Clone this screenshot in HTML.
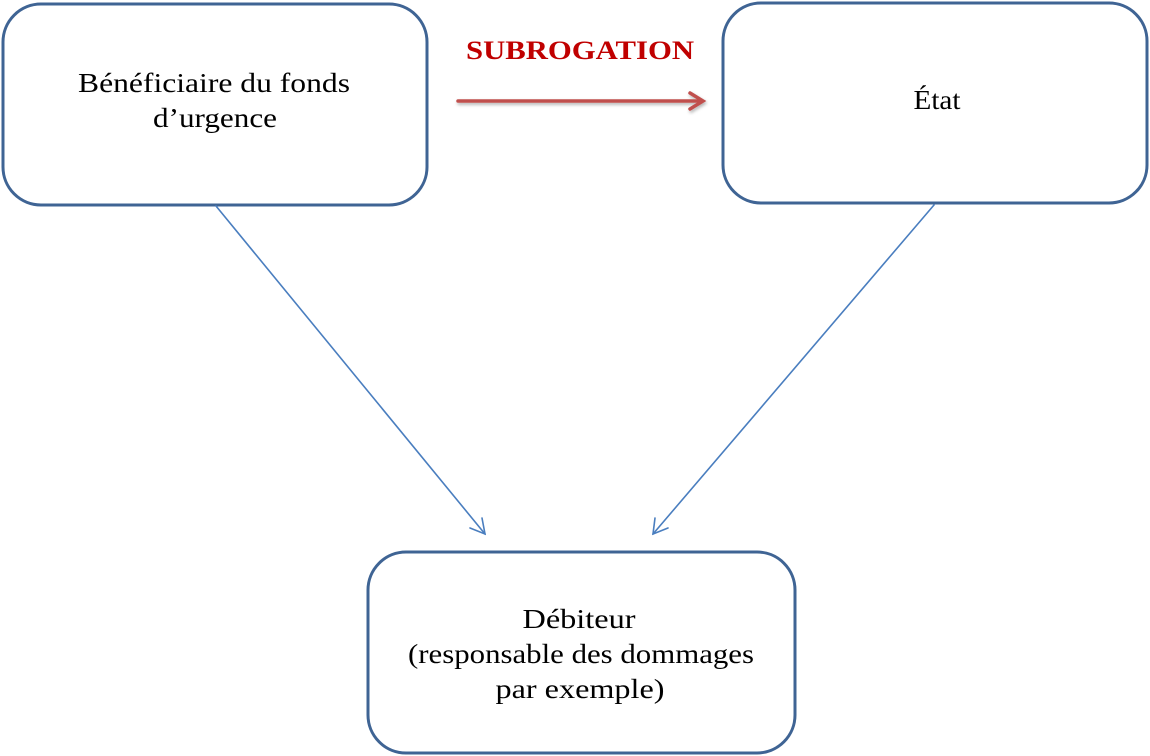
<!DOCTYPE html>
<html><head><meta charset="utf-8"><style>
html,body{margin:0;padding:0;background:#fff;}
svg{display:block;}
text{font-family:"Liberation Serif",serif;font-size:27px;fill:#000;}
</style></head><body>
<svg width="1150" height="756" viewBox="0 0 1150 756" xmlns="http://www.w3.org/2000/svg">
<defs>
<filter id="sh" x="-10%" y="-50%" width="120%" height="300%"><feDropShadow dx="1" dy="2" stdDeviation="1.5" flood-color="#000" flood-opacity="0.3"/></filter>
</defs>
<g fill="#fff" stroke="#3f6494" stroke-width="3">
<rect x="3" y="4" width="424" height="201" rx="38"/>
<rect x="723" y="3" width="424" height="200" rx="38"/>
<rect x="368" y="552" width="427" height="201" rx="38"/>
</g>
<g stroke="#4a7ebf" stroke-width="1.6" fill="none" stroke-linecap="round">
<line x1="216" y1="206" x2="485" y2="534"/>
<polyline points="470,528 485,534 482,518"/>
<line x1="934" y1="205" x2="653" y2="534"/>
<polyline points="655,518 653,534 668,528"/>
</g>
<g filter="url(#sh)" stroke="#c0504d" stroke-width="3.5" fill="none" stroke-linecap="round">
<line x1="458" y1="101" x2="702" y2="101"/>
<polyline points="690,93 703,101 690,109"/>
</g>
<text x="580" y="59" text-anchor="middle" style="font-weight:bold;fill:#c00000;font-size:26px" textLength="228" lengthAdjust="spacingAndGlyphs">SUBROGATION</text>
<text x="214" y="92" text-anchor="middle" textLength="272" lengthAdjust="spacingAndGlyphs">Bénéficiaire du fonds</text>
<text x="215" y="127" text-anchor="middle" textLength="124" lengthAdjust="spacingAndGlyphs">d’urgence</text>
<text x="937" y="109" text-anchor="middle" textLength="47" lengthAdjust="spacingAndGlyphs">État</text>
<text x="579" y="628" text-anchor="middle" textLength="113" lengthAdjust="spacingAndGlyphs">Débiteur</text>
<text x="581" y="663" text-anchor="middle" textLength="346" lengthAdjust="spacingAndGlyphs">(responsable des dommages</text>
<text x="580" y="698" text-anchor="middle" textLength="169" lengthAdjust="spacingAndGlyphs">par exemple)</text>
</svg>
</body></html>
